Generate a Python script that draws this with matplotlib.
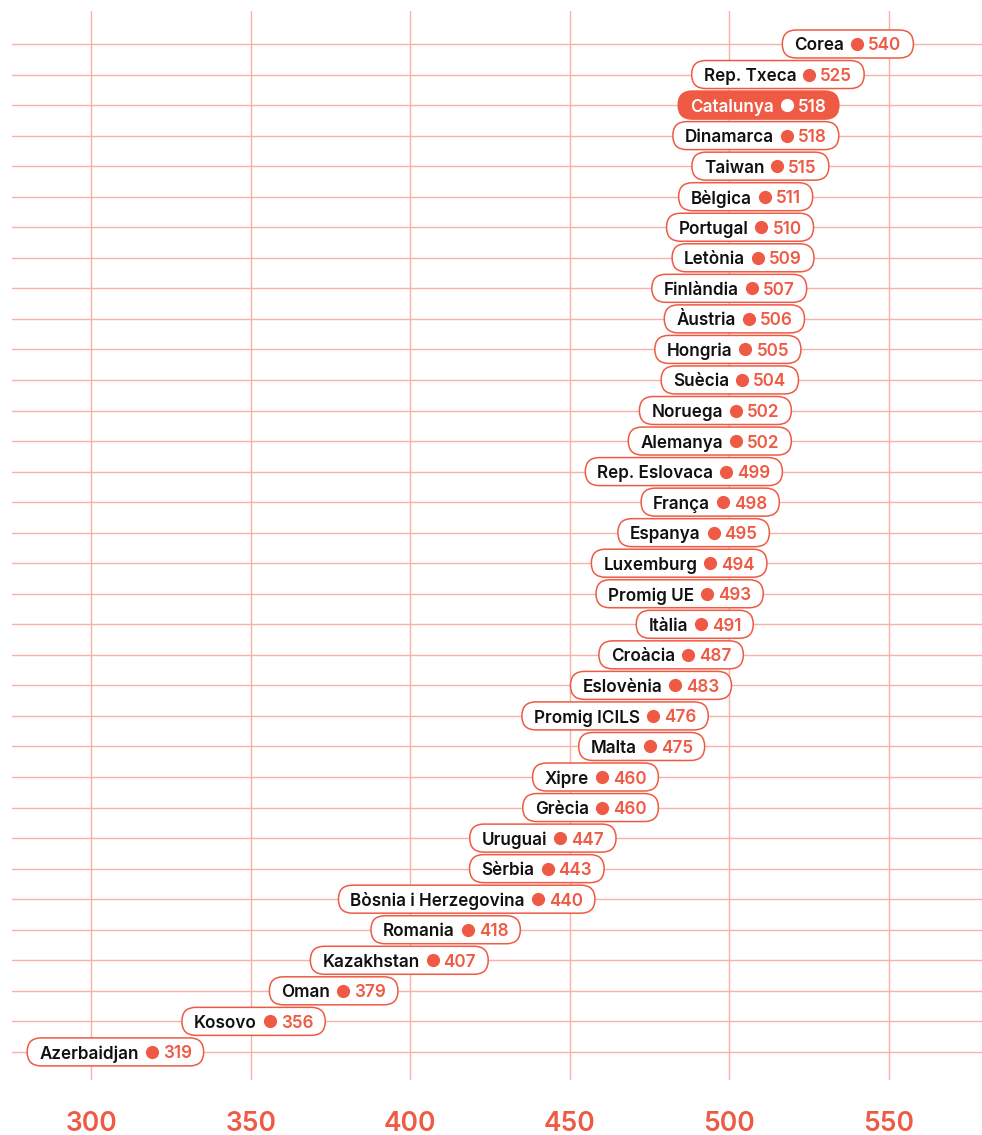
import matplotlib
matplotlib.use("Agg")
import matplotlib.pyplot as plt
from matplotlib.patches import FancyBboxPatch
from matplotlib.transforms import IdentityTransform

countries = [
    "Corea", "Rep. Txeca", "Catalunya", "Dinamarca", "Taiwan", "Bèlgica",
    "Portugal", "Letònia", "Finlàndia", "Àustria", "Hongria", "Suècia",
    "Noruega", "Alemanya", "Rep. Eslovaca", "França", "Espanya", "Luxemburg",
    "Promig UE", "Itàlia", "Croàcia", "Eslovènia", "Promig ICILS", "Malta",
    "Xipre", "Grècia", "Uruguai", "Sèrbia", "Bòsnia i Herzegovina", "Romania",
    "Kazakhstan", "Oman", "Kosovo", "Azerbaidjan",
]
scores = [
    540, 525, 518, 518, 515, 511, 510, 509, 507, 506, 505, 504, 502, 502,
    499, 498, 495, 494, 493, 491, 487, 483, 476, 475, 460, 460, 447, 443,
    440, 418, 407, 379, 356, 319,
]
highlight = "Catalunya"
xticks = [300, 350, 400, 450, 500, 550]

RED = "#ef5a44"
GRID = "#f6b2a8"
INK = "#111111"
FONT = "Inter"

W, H = 982, 1135
fig = plt.figure(figsize=(W / 100, H / 100), dpi=100)
ax = fig.add_axes([12 / W, (H - 1080) / H, 970 / W, 1069 / H])

n = len(countries)
ax.set_xlim(275.25, 579.1)
ax.set_ylim(33.92, -1.08)
for s in ax.spines.values():
    s.set_visible(False)

ax.set_xticks(xticks)
ax.set_yticks(range(n))
ax.set_yticklabels([])
ax.grid(True, color=GRID, linewidth=1.0, zorder=0)
ax.set_axisbelow(True)
ax.tick_params(axis="both", length=0)
ax.tick_params(axis="x", pad=22, labelcolor=RED, labelsize=19)
for lab in ax.get_xticklabels():
    lab.set_fontfamily(FONT)
    lab.set_fontweight("semibold")

name_texts = []
val_texts = []
for i, (c, v) in enumerate(zip(countries, scores)):
    hi = c == highlight
    fg_name = "white" if hi else INK
    fg_val = "white" if hi else RED
    ax.plot(v, i, "o", ms=9.5, color="white" if hi else RED, zorder=4,
            markeredgewidth=0)
    t1 = ax.annotate(c, xy=(v, i), xytext=(-13, 0), textcoords="offset pixels",
                     ha="right", va="center_baseline", fontsize=12.3, color=fg_name,
                     fontfamily=FONT, fontweight="semibold", zorder=4)
    t2 = ax.annotate(str(v), xy=(v, i), xytext=(11, 0), textcoords="offset pixels",
                     ha="left", va="center_baseline", fontsize=12.3, color=fg_val,
                     fontfamily=FONT, fontweight="semibold", zorder=4)
    name_texts.append(t1)
    val_texts.append(t2)

# pill boxes sized to the text, drawn in pixel coords so corners stay round
fig.canvas.draw()
r = fig.canvas.get_renderer()
for i, (c, v) in enumerate(zip(countries, scores)):
    hi = c == highlight
    b1 = name_texts[i].get_window_extent(r)
    b2 = val_texts[i].get_window_extent(r)
    yc = ax.transData.transform((v, i))[1]
    x0 = b1.x0 - 12
    x1 = b2.x1 + 12
    box = FancyBboxPatch((x0, yc - 14), x1 - x0, 28,
                         boxstyle="round,pad=0,rounding_size=14",
                         transform=IdentityTransform(),
                         facecolor=RED if hi else "white",
                         edgecolor=RED, linewidth=1.1, zorder=3, clip_on=False)
    ax.add_patch(box)

fig.savefig("out.png", dpi=100)
